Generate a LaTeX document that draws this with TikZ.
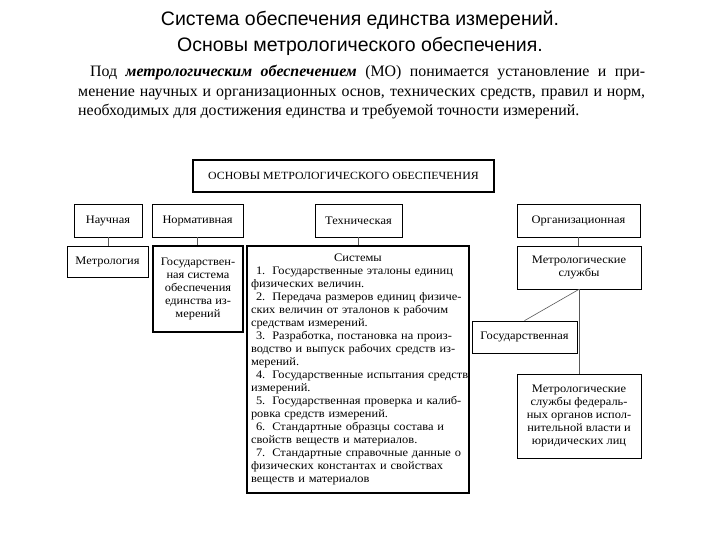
\documentclass[tikz,border=0pt]{standalone}
\usepackage{fontspec}
\setmainfont{Liberation Serif}
\newfontfamily\titlefont{Liberation Sans}
\newfontfamily\boxfont[FakeStretch=1.08]{Liberation Serif}
\usetikzlibrary{positioning}
\newcommand{\fullline}[1]{\makebox[214pt][s]{#1}}
\tikzset{
  diagbox/.style={
    draw,
    line width=0.7pt,
    align=center,
    inner sep=2pt,
    font=\boxfont\fontsize{11.5}{13}\selectfont
  },
  heavybox/.style={diagbox, line width=1.5pt},
  listbox/.style={heavybox, align=left, text width=214pt, inner sep=4pt},
  link/.style={draw=black!65, line width=0.6pt}
}
\begin{document}
\begin{tikzpicture}[x=1pt, y=-1pt]
\fill[white] (0,0) rectangle (720,540);
\useasboundingbox (0,0) rectangle (720,540);

\node[font=\titlefont\fontsize{19.5}{26}\selectfont, align=center] (title) at (360,33)
  {Система обеспечения единства измерений.\\Основы метрологического обеспечения.};
\node[anchor=north west, inner sep=0pt, align=left, font=\fontsize{15.9}{19.5}\selectfont] (intro) at (78,65)
  {\makebox[567pt][s]{\hspace*{12pt}Под \textbf{\textit{метрологическим обеспечением}} (МО) понимается установление и при-}\\
   \makebox[567pt][s]{менение научных и организационных основ, технических средств, правил и норм,}\\
   необходимых для достижения единства и требуемой точности измерений.};

\node[heavybox, font=\boxfont\fontsize{11}{13}\selectfont, minimum width=301pt, minimum height=32pt] (basis) at (343.5,176)
  {ОСНОВЫ МЕТРОЛОГИЧЕСКОГО ОБЕСПЕЧЕНИЯ};

\node[diagbox, minimum width=81pt, minimum height=31pt] (metrology) at (107.5,261.5) {Метрология};
\node[heavybox, minimum width=90pt, minimum height=86pt] (gsi) at (198,289)
  {Государствен-\\ная система\\обеспечения\\единства из-\\мерений};
\node[listbox, minimum height=247pt] (systems) at (358,369.5)
  {\makebox[214pt]{Системы}\\
   \fullline{\hspace*{5pt}1.\hspace{7pt}Государственные эталоны единиц}\\
   физических величин.\\
   \fullline{\hspace*{5pt}2.\hspace{7pt}Передача размеров единиц физиче-}\\
   \fullline{ских величин от эталонов к рабочим}\\
   средствам измерений.\\
   \fullline{\hspace*{5pt}3.\hspace{7pt}Разработка, постановка на произ-}\\
   \fullline{водство и выпуск рабочих средств из-}\\
   мерений.\\
   \fullline{\hspace*{5pt}4.\hspace{7pt}Государственные испытания средств}\\
   измерений.\\
   \fullline{\hspace*{5pt}5.\hspace{7pt}Государственная проверка и калиб-}\\
   ровка средств измерений.\\
   \hspace*{5pt}6.\hspace{7pt}Стандартные образцы состава и\\
   свойств веществ и материалов.\\
   \fullline{\hspace*{5pt}7.\hspace{7pt}Стандартные справочные данные о}\\
   \fullline{физических константах и свойствах}\\
   веществ и материалов};
\node[diagbox, minimum width=124pt, minimum height=43pt] (services) at (579,267.5) {Метрологические\\службы};
\node[diagbox, minimum width=105pt, minimum height=32pt] (state) at (524.5,337) {Государственная};
\node[diagbox, minimum width=124pt, minimum height=84pt] (federal) at (579,416)
  {Метрологические\\службы федераль-\\ных органов испол-\\нительной власти и\\юридических лиц};

\node[diagbox, minimum width=68pt, minimum height=33pt] (science) at (108,220.5) {Научная};
\node[diagbox, minimum width=91pt, minimum height=33pt] (norm) at (197.5,220.5) {Нормативная};
\node[diagbox, minimum width=87pt, minimum height=33pt] (techn) at (358.5,220.5) {Техническая};
\node[diagbox, minimum width=123pt, minimum height=33pt] (org) at (578.5,220.5) {Организационная};

\draw[link] (science) -- (science |- metrology.north);
\draw[link] (norm) -- (norm |- gsi.north);
\draw[link] (techn) -- (techn |- systems.north);
\draw[link] (org) -- (org |- services.north);
\draw[link] (services.south) -- (state.north);
\draw[link] (services.south) -- (services.south |- federal.north);
\end{tikzpicture}
\end{document}
